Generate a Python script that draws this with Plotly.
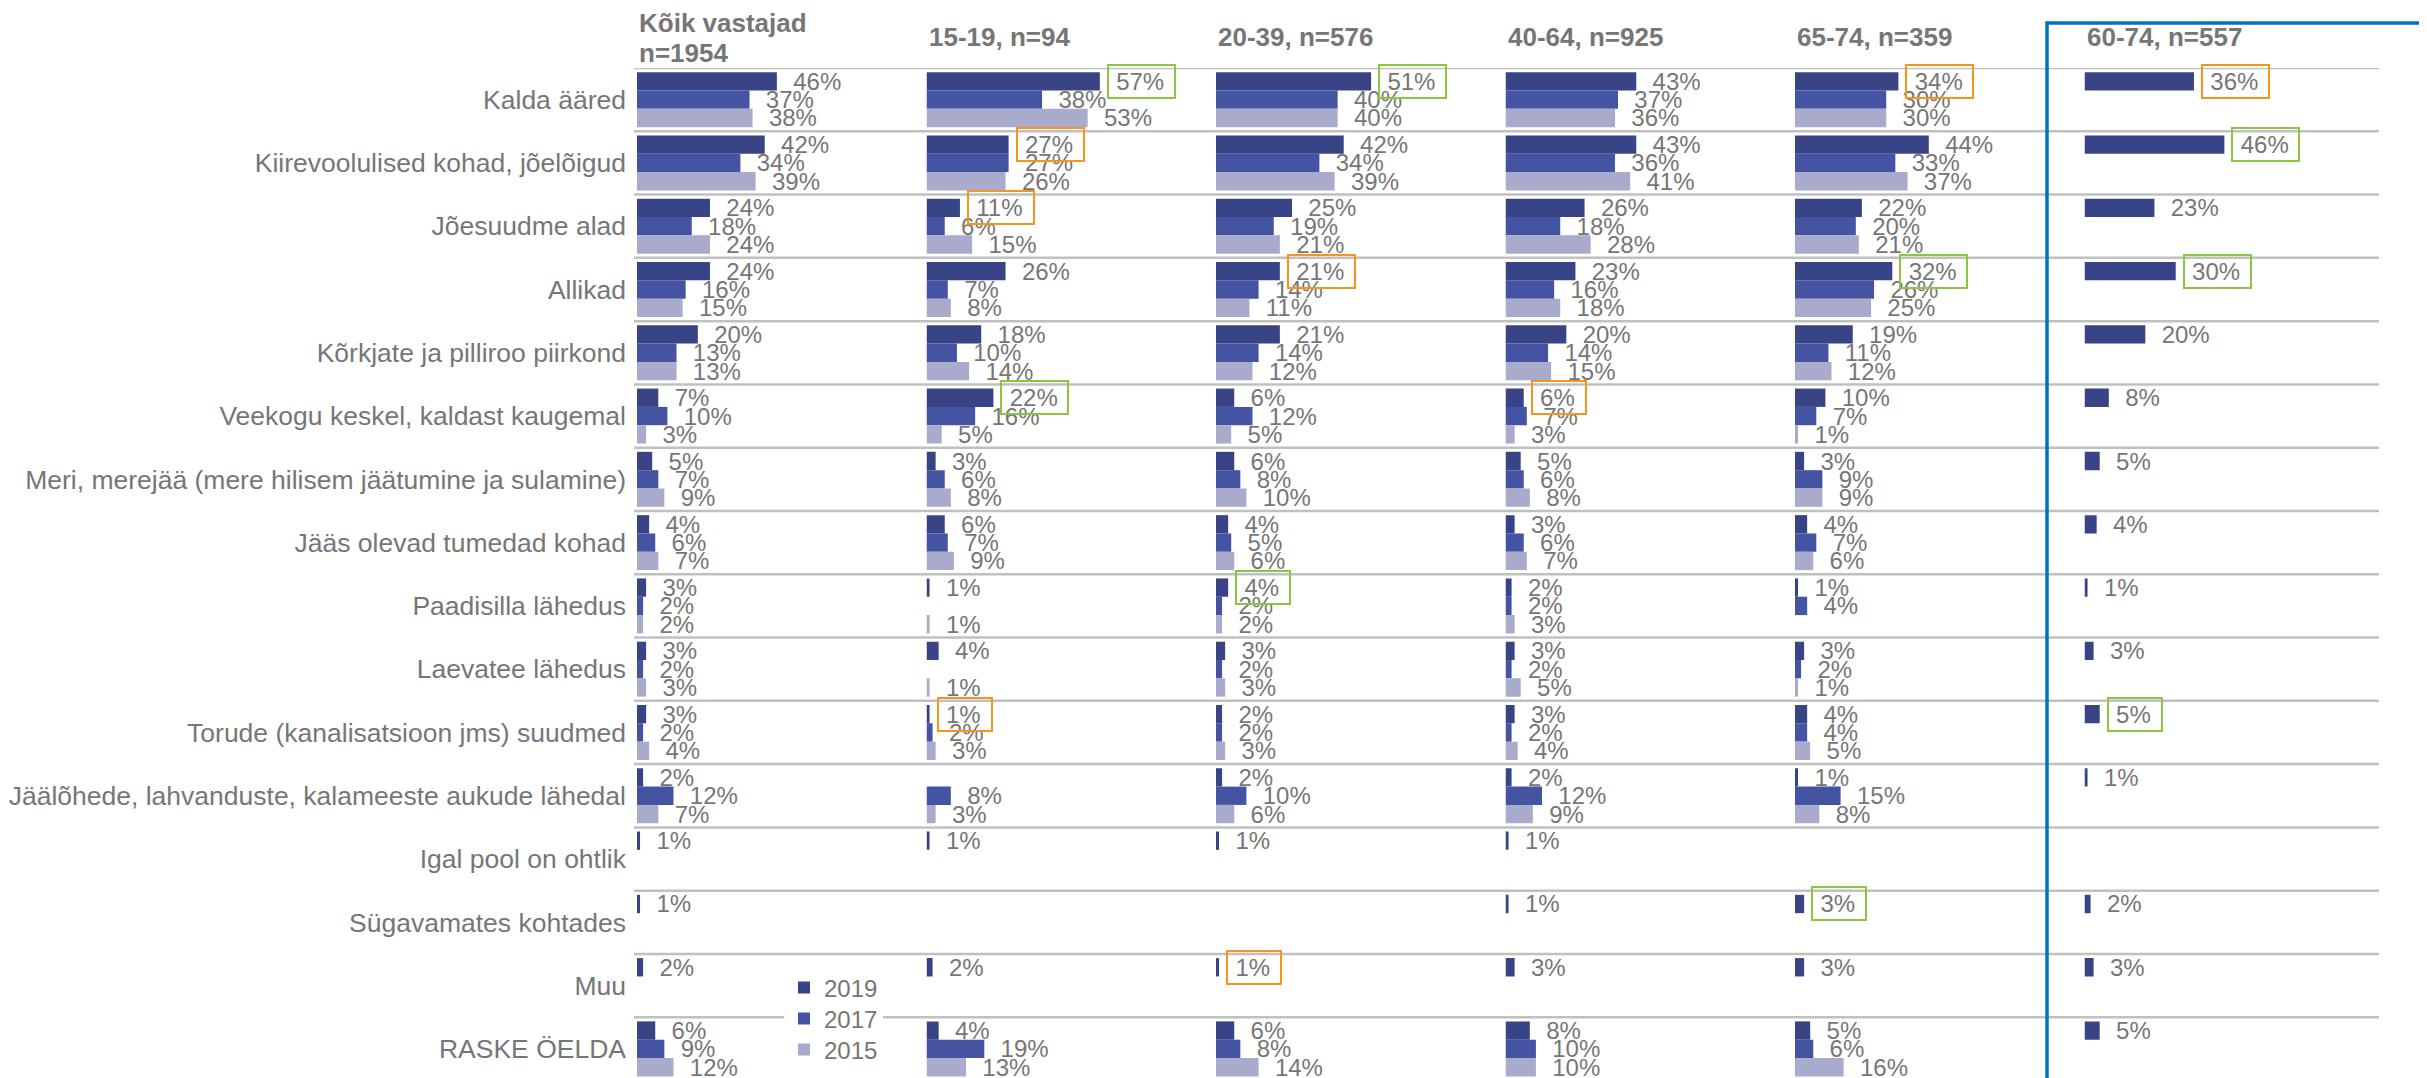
import plotly.graph_objects as go

# ---------------- data ----------------
categories = [
    "Kalda ääred",
    "Kiirevoolulised kohad, jõelõigud",
    "Jõesuudme alad",
    "Allikad",
    "Kõrkjate ja pilliroo piirkond",
    "Veekogu keskel, kaldast kaugemal",
    "Meri, merejää (mere hilisem jäätumine ja sulamine)",
    "Jääs olevad tumedad kohad",
    "Paadisilla lähedus",
    "Laevatee lähedus",
    "Torude (kanalisatsioon jms) suudmed",
    "Jäälõhede, lahvanduste, kalameeste aukude lähedal",
    "Igal pool on ohtlik",
    "Sügavamates kohtades",
    "Muu",
    "RASKE ÖELDA",
]
years = ["2019", "2017", "2015"]
panel_titles = ["Kõik vastajad", "15-19, n=94", "20-39, n=576", "40-64, n=925", "65-74, n=359", "60-74, n=557"]
all_n_label = "n=1954"

all_2019 = [46, 42, 24, 24, 20, 7, 5, 4, 3, 3, 3, 2, 1, 1, 2, 6]
all_2017 = [37, 34, 18, 16, 13, 10, 7, 6, 2, 2, 2, 12, None, None, None, 9]
all_2015 = [38, 39, 24, 15, 13, 3, 9, 7, 2, 3, 4, 7, None, None, None, 12]

a15_2019 = [57, 27, 11, 26, 18, 22, 3, 6, 1, 4, 1, None, 1, None, 2, 4]
a15_2017 = [38, 27, 6, 7, 10, 16, 6, 7, None, None, 2, 8, None, None, None, 19]
a15_2015 = [53, 26, 15, 8, 14, 5, 8, 9, 1, 1, 3, 3, None, None, None, 13]

a20_2019 = [51, 42, 25, 21, 21, 6, 6, 4, 4, 3, 2, 2, 1, None, 1, 6]
a20_2017 = [40, 34, 19, 14, 14, 12, 8, 5, 2, 2, 2, 10, None, None, None, 8]
a20_2015 = [40, 39, 21, 11, 12, 5, 10, 6, 2, 3, 3, 6, None, None, None, 14]

a40_2019 = [43, 43, 26, 23, 20, 6, 5, 3, 2, 3, 3, 2, 1, 1, 3, 8]
a40_2017 = [37, 36, 18, 16, 14, 7, 6, 6, 2, 2, 2, 12, None, None, None, 10]
a40_2015 = [36, 41, 28, 18, 15, 3, 8, 7, 3, 5, 4, 9, None, None, None, 10]

a65_2019 = [34, 44, 22, 32, 19, 10, 3, 4, 1, 3, 4, 1, None, 3, 3, 5]
a65_2017 = [30, 33, 20, 26, 11, 7, 9, 7, 4, 2, 4, 15, None, None, None, 6]
a65_2015 = [30, 37, 21, 25, 12, 1, 9, 6, None, 1, 5, 8, None, None, None, 16]

a60_2019 = [36, 46, 23, 30, 20, 8, 5, 4, 1, 3, 5, 1, None, 2, 3, 5]
a60_2017 = [None] * 16
a60_2015 = [None] * 16

# highlighted values (panel index, row index, kind)
hl_panel = [1, 2, 4, 5, 1, 5, 1, 2, 4, 5, 1, 3, 2, 1, 5, 4, 2]
hl_row = [0, 0, 0, 0, 1, 1, 2, 3, 3, 3, 5, 5, 8, 10, 10, 13, 14]
hl_kind = ["hi", "hi", "lo", "lo", "lo", "hi", "lo", "lo", "hi", "hi", "hi", "lo", "hi", "lo", "hi", "hi", "lo"]

# ---------------- styling ----------------
OFF = 8  # page body margin; positions below are given in screen pixels
W, H = 2427 - OFF, 1078 - OFF
ML, MT = 637 - OFF, 68 - OFF
MR, MB = 53, 0
PW = W - ML - MR
PH = H - MT - MB
XMAX = 95.2
BARGAP = 0.131
colors = {"2019": "#384485", "2017": "#4553a3", "2015": "#a8abcc"}
hl_colors = {"hi": "#8cc63f", "lo": "#f7941d"}
txt_gray = "#767676"
FONT = "Liberation Sans, Arial, sans-serif"

panels = [
    (all_2019, all_2017, all_2015),
    (a15_2019, a15_2017, a15_2015),
    (a20_2019, a20_2017, a20_2015),
    (a40_2019, a40_2017, a40_2015),
    (a65_2019, a65_2017, a65_2015),
    (a60_2019, a60_2017, a60_2015),
]
legend_ids = {"2019": "legend", "2017": "legend2", "2015": "legend3"}
legend_centers = {"2019": 988, "2017": 1019, "2015": 1050}


def xname(p):
    return "x" if p == 0 else f"x{p + 1}"


def ypaper(screen_px):
    return 1 + (MT - (screen_px - OFF)) / PH


def xpaper(screen_px):
    return ((screen_px - OFF) - ML) / PW


fig = go.Figure()
for p, vals in enumerate(panels):
    for yr, v in zip(years, vals):
        fig.add_trace(go.Bar(
            y=categories, x=v, orientation="h", name=yr,
            marker=dict(color=colors[yr], line=dict(width=0)),
            xaxis=xname(p), yaxis="y",
            showlegend=(p == 0), legendgroup=yr, legend=legend_ids[yr],
            texttemplate="\u00a0\u00a0%{x}%", textposition="outside",
            constraintext="none", cliponaxis=False,
            textfont=dict(size=24, color=txt_gray, family=FONT),
            hoverinfo="skip",
        ))

layout_axes = {}
for p in range(6):
    key = "xaxis" if p == 0 else f"xaxis{p + 1}"
    layout_axes[key] = dict(domain=[p / 6, (p + 1) / 6], range=[0, XMAX], visible=False,
                            anchor="y", fixedrange=True)

legends = {}
for yr in years:
    legends[legend_ids[yr]] = dict(
        x=xpaper(784), y=ypaper(legend_centers[yr]), xanchor="left", yanchor="middle",
        bgcolor="white", font=dict(size=24, color=txt_gray, family=FONT),
        itemwidth=30, borderwidth=0)

fig.update_layout(
    **layout_axes,
    **legends,
    yaxis=dict(type="category", categoryorder="array", categoryarray=categories,
               range=[15.46, -0.5], anchor="x", showgrid=False, zeroline=False,
               showline=False, ticks="", ticklabelstandoff=10,
               tickfont=dict(size=26.5, color=txt_gray, family=FONT)),
    barmode="group", bargap=BARGAP, bargroupgap=0,
    width=W, height=H,
    margin=dict(l=ML, r=MR, t=MT, b=MB, pad=0),
    paper_bgcolor="white", plot_bgcolor="white",
    template="none",
    font=dict(family=FONT, color=txt_gray),
)

# gridlines at category boundaries
for i in range(16):
    fig.add_shape(type="line", xref="paper", yref="y",
                  x0=xpaper(634), x1=xpaper(2379), y0=i - 0.5, y1=i - 0.5,
                  line=dict(color="#c0c0c0", width=2.5), layer="below")

# panel headers
annots = []
annots.append(dict(text="<b>" + panel_titles[0] + "</b>", xref="x domain", x=0, xanchor="left",
                   yref="paper", y=ypaper(23), yanchor="middle", showarrow=False,
                   font=dict(size=26, color=txt_gray, family=FONT)))
annots.append(dict(text="<b>" + all_n_label + "</b>", xref="x domain", x=0, xanchor="left",
                   yref="paper", y=ypaper(53), yanchor="middle", showarrow=False,
                   font=dict(size=26, color=txt_gray, family=FONT)))
for p in range(1, 6):
    annots.append(dict(text="<b>" + panel_titles[p] + "</b>", xref=f"{xname(p)} domain", x=0,
                       xanchor="left", yref="paper", y=ypaper(37), yanchor="middle",
                       showarrow=False, font=dict(size=26, color=txt_gray, family=FONT)))

# highlight boxes around 2019 labels
slot = (1 - BARGAP) / 3
for p, r, k in zip(hl_panel, hl_row, hl_kind):
    v = panels[p][0][r]
    annots.append(dict(text="\u00a0" + f"{v}%" + "\u00a0", xref=xname(p), x=v, xanchor="left", xshift=7,
                       yref="y", y=r - slot, yanchor="middle", showarrow=False,
                       font=dict(size=24, color="rgba(0,0,0,0)", family=FONT),
                       bordercolor=hl_colors[k], borderwidth=2, borderpad=2))
fig.update_layout(annotations=annots)

# blue frame around last panel
fig.add_shape(type="path", xref="paper", yref="paper",
              path=f"M {xpaper(2047)},{ypaper(1100)} L {xpaper(2047)},{ypaper(23)} L {xpaper(2450)},{ypaper(23)}",
              line=dict(color="#0070c0", width=3.5), layer="above")

fig.write_html("out.html")
